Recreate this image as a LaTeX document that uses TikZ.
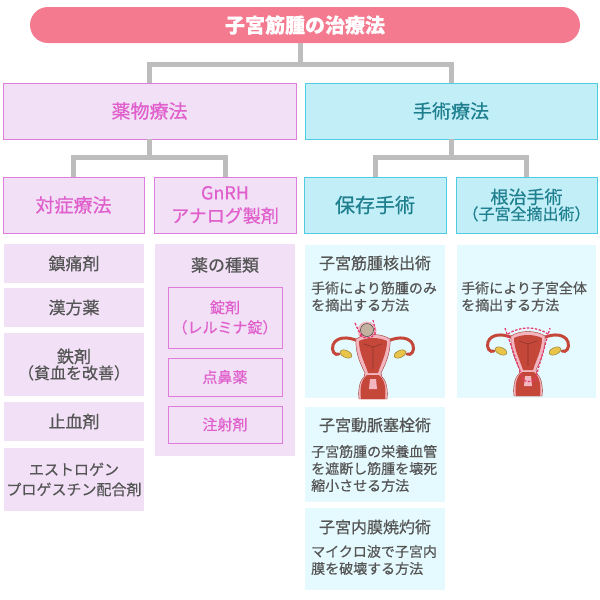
\documentclass[tikz,border=0pt]{standalone}
\usepackage{fontspec}
\setmainfont{Noto Sans CJK JP}[FakeBold=0.5]
\definecolor{pillpink}{HTML}{F47A90}
\definecolor{linegray}{HTML}{BDBDBD}
\definecolor{lilac}{HTML}{F1E0F6}
\definecolor{lilacedge}{HTML}{E07CDC}
\definecolor{lilactext}{HTML}{E05FCC}
\definecolor{aqua}{HTML}{C2EEF8}
\definecolor{aquaedge}{HTML}{4FCBE2}
\definecolor{aquatext}{HTML}{1E7F8E}
\definecolor{paleaqua}{HTML}{E5FAFE}
\definecolor{textgray}{HTML}{555555}
\definecolor{wombred}{HTML}{C5473A}
\definecolor{wombpink}{HTML}{F3B5C0}
\definecolor{ovary}{HTML}{E8C44A}
\definecolor{cutpink}{HTML}{E8336E}
\newcommand{\womb}[1]{%
\begin{scope}[shift={#1}]
\foreach \s in {1,-1}{
\begin{scope}[xscale=\s]
\draw[wombred,line width=3pt,line cap=round] (-15,4) .. controls (-26,-1) and (-37,0) .. (-40,8) .. controls (-42,14) and (-38,19) .. (-34,17);
\filldraw[fill=ovary,draw=ovary!60!black,line width=.4pt,rotate around={-25:(-27,17)}] (-27,17) ellipse [x radius=6.5,y radius=3.5];
\end{scope}}
\filldraw[fill=wombpink,draw=wombred!80!black,line width=.4pt] (-17,2) .. controls (-8,-4) and (8,-4) .. (17,2) .. controls (18,16) and (12,28) .. (8,36) -- (9,40) .. controls (14,44) and (15,55) .. (14,62) -- (-14,62) .. controls (-15,55) and (-14,44) .. (-9,40) -- (-8,36) .. controls (-12,28) and (-18,16) .. (-17,2) -- cycle;
\fill[wombred] (-14,4) .. controls (-6,0) and (6,0) .. (14,4) .. controls (14,16) and (8,26) .. (5,36) -- (-5,36) .. controls (-8,26) and (-14,16) .. (-14,4) -- cycle;
\draw[wombred!70!black,line width=.6pt] (-9,7) -- (0,10) -- (9,7) (0,10) -- (0,32);
\fill[wombred] (-6,38) -- (6,38) .. controls (13,44) and (13,54) .. (12,62) -- (-12,62) .. controls (-13,54) and (-13,44) .. (-6,38) -- cycle;
\fill[wombpink] (-3,42) -- (3,42) -- (4,52) -- (-4,52) -- cycle;
\end{scope}}
\begin{document}
\begin{tikzpicture}[x=1pt,y=-1pt,
  every node/.style={inner sep=0pt,align=center},
  conn/.style={draw=linegray,line width=5pt},
  rootbox/.style={fill=pillpink,rounded corners=18pt,text=white,minimum width=550,minimum height=36,font=\fontsize{20}{24}\selectfont\bfseries},
  drugbox/.style={fill=lilac,draw=lilacedge,line width=.8pt,text=lilactext},
  surgbox/.style={fill=aqua,draw=aquaedge,line width=.8pt,text=aquatext},
  itembox/.style={fill=lilac,text=textgray,minimum width=140},
  kindbox/.style={fill=lilac,draw=lilacedge,line width=.8pt,text=lilactext,minimum width=114,font=\fontsize{15}{20}\selectfont},
  opbox/.style={fill=paleaqua,minimum width=140},
  optitle/.style={text=textgray,font=\fontsize{16}{20}\selectfont},
  optext/.style={text=textgray,align=left,anchor=west,font=\fontsize{14}{17}\selectfont},
  cutline/.style={draw=cutpink,dash pattern=on 2.5pt off 1.5pt,line width=1.2pt}]
\useasboundingbox (0,0) rectangle (600,600);
\fill[white] (0,0) rectangle (600,600);

\node[rootbox] (root) at (305,25) {子宮筋腫の治療法};
\node[drugbox,minimum width=293,minimum height=56,font=\fontsize{19}{22}\selectfont] (drug) at (149.5,111) {薬物療法};
\node[surgbox,minimum width=292,minimum height=56,font=\fontsize{19}{22}\selectfont] (surg) at (451,111) {手術療法};
\node[drugbox,minimum width=141,minimum height=56,font=\fontsize{19}{22}\selectfont] (symp) at (73.5,205) {対症療法};
\node[drugbox,minimum width=142,minimum height=56,font=\fontsize{18}{23}\selectfont] (gnrh) at (225,205) {GnRH\\アナログ製剤};
\node[surgbox,minimum width=142,minimum height=56,font=\fontsize{20}{22}\selectfont] (keep) at (375,205) {保存手術};
\node[surgbox,minimum width=141,minimum height=56] (radical) at (526.5,205) {\fontsize{18}{21}\selectfont 根治手術\\\fontsize{16}{21}\selectfont （子宮全摘出術）};

\coordinate (j1) at (300,64);
\draw[conn] (root.south -| j1) -- (j1) -| (drug.north);
\draw[conn] (j1) -| (surg.north);
\draw[conn] (drug.south) -- ++(0,18) coordinate (j2) -| (symp.north);
\draw[conn] (j2) -| (gnrh.north);
\draw[conn] (surg.south) -- ++(0,18) coordinate (j3) -| (keep.north);
\draw[conn] (j3) -| (radical.north);

\node[itembox,minimum height=39,font=\fontsize{17}{20}\selectfont] (pain) at (74,263.5) {鎮痛剤};
\node[itembox,minimum height=39,font=\fontsize{17}{20}\selectfont] (kampo) at (74,307.5) {漢方薬};
\node[itembox,minimum height=63] (iron) at (74,364.5) {\fontsize{17}{23}\selectfont 鉄剤\\\fontsize{16}{23}\selectfont （貧血を改善）};
\node[itembox,minimum height=39,font=\fontsize{17}{20}\selectfont] (stop) at (74,421.5) {止血剤};
\node[itembox,minimum height=63,font=\fontsize{15}{20}\selectfont] (combo) at (74,479.5) {エストロゲン\\プロゲスチン配合剤};

\node[itembox,minimum height=212] (kinds) at (225,350) {};
\node[text=textgray,font=\fontsize{17}{20}\selectfont] (kindstitle) at (225,265) {薬の種類};
\node[kindbox,minimum height=61] (tablet) at (225,317.5) {錠剤\\（レルミナ錠）};
\node[kindbox,minimum height=38] (nasal) at (225,377) {点鼻薬};
\node[kindbox,minimum height=37] (inject) at (225,424.5) {注射剤};

\node[opbox,minimum height=153] (enuc) at (375,321.5) {};
\node[opbox,minimum width=139,minimum height=153] (hyst) at (526.5,321.5) {};
\node[opbox,minimum height=95] (embo) at (375,454.5) {};
\node[opbox,minimum height=82] (abla) at (375,549) {};

\node[optitle] (enuctitle) at (375,263) {子宮筋腫核出術};
\node[optext] (enuctext) at (311,296.5) {手術により筋腫のみ\\を摘出する方法};
\node[optext] (hysttext) at (461,296.5) {手術により子宮全体\\を摘出する方法};
\node[optitle] (embotitle) at (375,425) {子宮動脈塞栓術};
\node[optext] (embotext) at (311,468.5) {子宮筋腫の栄養血管\\を遮断し筋腫を壊死\\縮小させる方法};
\node[optitle] (ablatitle) at (375,527) {子宮内膜焼灼術};
\node[optext] (ablatext) at (311,560) {マイクロ波で子宮内\\膜を破壊する方法};

\fill[wombpink] (367,331) circle (9.5);
\womb{(373,337)}
\filldraw[fill=gray!55!brown!60,draw=gray!50!black,line width=.5pt] (367,330) circle (6.5);
\draw[cutline] (355,323) .. controls (358,330) .. (363,337);
\draw[cutline] (373,320) .. controls (375,328) .. (375,335);
\draw[cutline] (360,335) .. controls (366,340) and (372,338) .. (375,334);

\womb{(528,334)}
\draw[cutline] (505,328) -- (523,380) .. controls (527,382) and (531,382) .. (535,380) -- (550,328);
\draw[cutline] (508,334) .. controls (520,326) and (536,326) .. (548,334);
\end{tikzpicture}
\end{document}
